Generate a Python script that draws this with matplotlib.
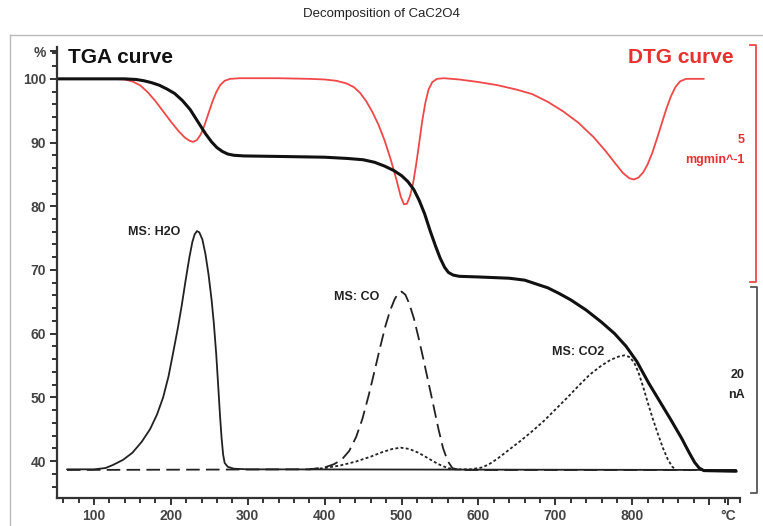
import numpy as np
import matplotlib.pyplot as plt
from matplotlib.lines import Line2D
from matplotlib.ticker import MultipleLocator

plt.rcParams['font.family'] = ['Liberation Sans', 'DejaVu Sans']

# TGA curve (temperature in C, mass %)
tga_t = [52, 140, 155, 165, 175, 185, 195, 205, 215, 225, 235, 245, 253, 260, 267, 274, 282, 295,
         350, 400, 430, 450, 465, 478, 490, 500, 508, 516, 523, 530, 537, 544, 550, 556, 561, 567,
         575, 600, 640, 660, 675, 690, 705, 720, 740, 760, 777, 792, 806, 821, 836, 850, 864, 874,
         881, 887, 893, 935]
tga_v = [100, 100, 99.9, 99.7, 99.4, 99.0, 98.4, 97.7, 96.6, 95.2, 93.3, 91.4, 90.1, 89.2, 88.6, 88.2, 88.0, 87.9,
         87.8, 87.7, 87.5, 87.3, 86.9, 86.3, 85.6, 84.8, 83.9, 82.6, 80.9, 78.8, 76.2, 73.8, 71.9, 70.4, 69.6, 69.2,
         69.0, 68.9, 68.7, 68.4, 67.8, 67.2, 66.3, 65.3, 63.7, 61.8, 60.0, 58.0, 55.6, 52.3, 49.3, 46.5, 43.6, 41.3,
         39.8, 38.9, 38.5, 38.4]

# DTG curve, drawn on the same % scale
dtg_t = [125, 140, 150, 160, 170, 180, 190, 200, 210, 218, 224, 229, 234, 239, 244, 249, 254, 259,
         264, 270, 277, 290, 340, 380, 400, 415, 428, 438, 446, 454, 462, 470, 478, 486, 493, 499,
         503, 507, 511, 515, 519, 523, 527, 531, 535, 540, 546, 555, 575, 600, 625, 650, 670, 690,
         710, 730, 750, 765, 778, 788, 796, 802, 808, 814, 820, 826, 832, 838, 844, 850, 856, 862,
         870, 893]
dtg_v = [100, 99.9, 99.6, 99.0, 97.9, 96.5, 94.9, 93.3, 91.8, 90.8, 90.3, 90.1, 90.4, 91.3, 92.8, 94.6, 96.4, 97.9,
         99.0, 99.7, 100, 100.1, 100.1, 100, 99.9, 99.7, 99.3, 98.7, 97.8, 96.5, 94.8, 92.8, 90.3, 87.3, 84.3, 81.5,
         80.3, 80.4, 81.6, 83.6, 86.6, 90, 93.5, 96.3, 98.3, 99.5, 100, 100.1, 99.9, 99.5, 99.0, 98.3, 97.6, 96.4,
         94.9, 93.1, 90.8, 88.7, 86.7, 85.2, 84.4, 84.2, 84.5, 85.3, 86.6, 88.4, 90.6, 92.9, 95.2, 97.2, 98.7, 99.6,
         100, 100]

# MS signals
h2o_t = [65, 100, 115, 125, 138, 150, 162, 173, 182, 190, 197, 203, 209, 214, 219, 224, 228, 231,
         234, 237, 241, 245, 249, 253, 256, 259, 262, 264, 266, 268, 270, 274, 282, 300, 935]
h2o_v = [38.7, 38.7, 38.9, 39.4, 40.2, 41.3, 43.0, 45, 47.3, 50, 53.3, 57, 60.8, 64.3, 68.2, 71.9, 74.4, 75.6,
         76.1, 75.9, 74.8, 72.5, 69.3, 65.3, 61.5, 56.8, 51, 47, 43.6, 41.0, 39.7, 39.1, 38.8, 38.7, 38.6]

co_t = [65, 380, 400, 412, 422, 432, 441, 449, 457, 465, 472, 479, 485, 491, 496, 500, 505, 510,
        516, 522, 528, 535, 542, 548, 554, 560, 566, 575, 935]
co_v = [38.6, 38.7, 39, 39.5, 40.2, 41.6, 43.8, 46.6, 50.2, 54.2, 57.8, 61.2, 63.6, 65.4, 66.4, 66.6, 66.1, 64.7,
        62.4, 59.4, 56.2, 52.3, 48.4, 45, 42, 40, 38.9, 38.6, 38.6]

co2_t = [380, 400, 420, 440, 460, 475, 488, 499, 510, 522, 535, 548, 560, 570, 590, 605, 615, 625,
         640, 655, 670, 685, 700, 715, 730, 745, 760, 772, 782, 790, 797, 803, 808, 814, 820, 827,
         834, 840, 846, 852, 856]
co2_v = [38.7, 38.9, 39.3, 39.9, 40.7, 41.4, 41.9, 42.1, 41.9, 41.3, 40.4, 39.5, 38.9, 38.7, 38.7, 39.0, 39.6, 40.4,
         41.8, 43.2, 44.7, 46.3, 48.1, 49.9, 51.8, 53.6, 55.0, 55.9, 56.4, 56.6, 56.3, 55.3, 53.9, 51.7, 49.2, 46.5,
         44, 42, 40.3, 39.1, 38.7]

x_ticks = [100, 200, 300, 400, 500, 600, 700, 800, 900, 925]
x_labels = ['100', '200', '300', '400', '500', '600', '700', '800', '', '°C']
y_ticks = [40, 50, 60, 70, 80, 90, 100, 104.3]
y_labels = ['40', '50', '60', '70', '80', '90', '100', '%']

red_line = '#f04848'
red_text = '#e8302f'
dark = '#333333'

fig = plt.figure(figsize=(7.63, 5.26), dpi=100)
ax = fig.add_axes([57 / 763, 1 - 498 / 526, (740 - 57) / 763, (498 - 47) / 526])

kw = dict(solid_joinstyle='round', solid_capstyle='round')
ax.plot(h2o_t, h2o_v, color='#222222', lw=1.3, **kw)
ax.plot(co_t, co_v, color='#222222', lw=1.3, dashes=(7.5, 3.5))
ax.plot(co2_t, co2_v, color='#222222', lw=1.3, dashes=(1.6, 1.3))
ax.plot(dtg_t, dtg_v, color=red_line, lw=1.3, **kw)
ax.plot(tga_t, tga_v, color='#111111', lw=2.2, **kw)

ax.set_xlim(52, 940)
ax.set_ylim(34.2, 105)

for s in ['top', 'right']:
    ax.spines[s].set_visible(False)
for s in ['left', 'bottom']:
    ax.spines[s].set_color(dark)
    ax.spines[s].set_linewidth(1.6)

ax.set_xticks(x_ticks)
ax.set_xticklabels(x_labels)
ax.set_yticks(y_ticks)
ax.set_yticklabels(y_labels)
ax.xaxis.set_minor_locator(MultipleLocator(20))
ax.yaxis.set_minor_locator(MultipleLocator(2))
ax.tick_params(which='major', direction='out', length=5, width=1.4, color=dark,
               labelsize=10, labelcolor='#444444', pad=3)
ax.tick_params(which='minor', direction='out', length=3.5, width=1.4, color=dark)
for lab in ax.get_xticklabels() + ax.get_yticklabels():
    lab.set_fontweight('bold')

ax.text(66, 103.3, 'TGA curve', fontsize=15, fontweight='bold', color='#111111', va='center')
ax.text(932, 103.3, 'DTG curve', fontsize=15, fontweight='bold', color=red_text,
        va='center', ha='right')
ax.text(946, 90.4, '5', fontsize=9, fontweight='bold', color=red_text, ha='right', va='center')
ax.text(946, 87.3, 'mgmin^-1', fontsize=9, fontweight='bold', color=red_text, ha='right', va='center')
ax.text(946, 53.5, '20', fontsize=9, fontweight='bold', color='#222222', ha='right', va='center')
ax.text(946, 50.4, 'nA', fontsize=9, fontweight='bold', color='#222222', ha='right', va='center')
ax.text(213, 76, 'MS: H2O', fontsize=9, fontweight='bold', color='#222222', ha='right', va='center')
ax.text(471, 65.8, 'MS: CO', fontsize=9, fontweight='bold', color='#222222', ha='right', va='center')
ax.text(763, 57.1, 'MS: CO2', fontsize=9, fontweight='bold', color='#222222', ha='right', va='center')

# scale brackets on the right
ax.plot([953, 961, 961, 953], [105.3, 105.3, 68.1, 68.1], color=red_line, lw=1.3, clip_on=False)
ax.plot([954, 962, 962, 954], [67.3, 67.3, 35.0, 35.0], color='#555555', lw=1.3, clip_on=False)

fig.text(0.5, 1 - 14 / 526, 'Decomposition of CaC2O4', ha='center', va='center',
         fontsize=9.5, color='#222222')

# light frame around the chart
fig.add_artist(Line2D([10 / 763, 1], [1 - 35 / 526, 1 - 35 / 526], color='#bbbbbb', lw=1))
fig.add_artist(Line2D([10 / 763, 10 / 763], [0, 1 - 35 / 526], color='#bbbbbb', lw=1))

fig.savefig('out.png', dpi=100)
